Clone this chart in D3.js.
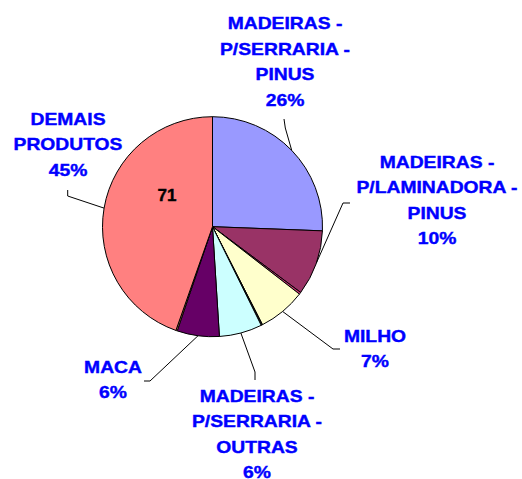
<!DOCTYPE html>
<html>
<head>
<meta charset="utf-8">
<script src="https://cdn.jsdelivr.net/npm/d3@7"></script>
<style>
  body { margin: 0; background: #fff; }
  text { font-family: "Liberation Sans", Arial, sans-serif; font-weight: bold; }
</style>
</head>
<body>
<div id="chart"></div>
<script>
// slices, clockwise from 12 o'clock (tiny unlabeled slices show up as thin lines)
const categories = [
    "MADEIRAS - P/SERRARIA - PINUS",
    "MADEIRAS - P/LAMINADORA - PINUS",
    "",
    "MILHO",
    "",
    "MADEIRAS - P/SERRARIA - OUTRAS",
    "MACA",
    "",
    "DEMAIS PRODUTOS"
];
const values = [25.6, 9.6, 0.3, 7.0, 0.2, 6.3, 6.2, 0.2, 44.6];
const colors = ["#9999FF", "#993366", "#CC3377", "#FFFFCC", "#222222", "#CCFFFF", "#660066", "#FF9966", "#FF8080"];

// label lines (text only) for the labeled slices
const labelLines = {
    0: ["MADEIRAS -", "P/SERRARIA -", "PINUS"],
    1: ["MADEIRAS -", "P/LAMINADORA -", "PINUS"],
    3: ["MILHO"],
    5: ["MADEIRAS -", "P/SERRARIA -", "OUTRAS"],
    6: ["MACA"],
    8: ["DEMAIS", "PRODUTOS"]
};
const innerValueLabel = "71";

// layout
const width = 522, height = 479;
const cx = 212.5, cy = 226.7, radius = 110;
const lineStep = 25.5;
const labelPos = {
    0: {x: 285, y: 29.3, elbow: [[285.3, 128], [284, 119]]},
    1: {x: 437, y: 168, elbow: [[343, 203], [350, 203]]},
    3: {x: 375, y: 341.7, elbow: [[333, 349], [340, 349]]},
    5: {x: 257, y: 402, elbow: [[255, 372], [255, 380]]},
    6: {x: 113, y: 372.7, elbow: [[150, 381], [144, 381]]},
    8: {x: 68, y: 125, elbow: [[67.7, 196], [67.7, 190]]}
};

const svg = d3.select("#chart").append("svg")
    .attr("width", width)
    .attr("height", height);

const total = d3.sum(values);
const pie = d3.pie().sort(null).value(d => d);
const arcs = pie(values);
const arc = d3.arc().innerRadius(0).outerRadius(radius);

const g = svg.append("g").attr("transform", `translate(${cx},${cy})`);

g.selectAll("path.slice")
    .data(arcs)
    .enter().append("path")
    .attr("class", "slice")
    .attr("d", arc)
    .attr("fill", (d, i) => colors[i])
    .attr("stroke", "#000")
    .attr("stroke-width", 1)
    .attr("stroke-linejoin", "round");

// value label inside the big slice
g.append("text")
    .attr("x", -45.5)
    .attr("y", 200.7 - cy)
    .attr("text-anchor", "middle")
    .attr("font-size", 17)
    .attr("fill", "#000")
    .attr("stroke", "#000")
    .attr("stroke-width", 0.4)
    .text(innerValueLabel);

// leader lines: from the rim at the slice mid-angle to the label
const line = d3.line();
Object.keys(labelPos).forEach(k => {
    const a = arcs[k];
    const mid = (a.startAngle + a.endAngle) / 2;
    const rim = [cx + radius * Math.sin(mid), cy - radius * Math.cos(mid)];
    svg.append("path")
        .attr("d", line([rim].concat(labelPos[k].elbow)))
        .attr("fill", "none")
        .attr("stroke", "#000")
        .attr("stroke-width", 1);
});

// labels
Object.keys(labelPos).forEach(k => {
    const p = labelPos[k];
    const pct = Math.round(values[k] / total * 100) + "%";
    const lines = labelLines[k].concat([pct]);
    const t = svg.append("text")
        .attr("transform", `translate(${p.x},${p.y}) scale(1.17,1)`)
        .attr("text-anchor", "middle")
        .attr("font-size", 16.5)
        .attr("fill", "#0000FF")
        .attr("stroke", "#0000FF")
        .attr("stroke-width", 0.4);
    lines.forEach((s, i) => {
        t.append("tspan")
            .attr("x", 0)
            .attr("y", i * lineStep)
            .text(s);
    });
});
</script>
</body>
</html>
